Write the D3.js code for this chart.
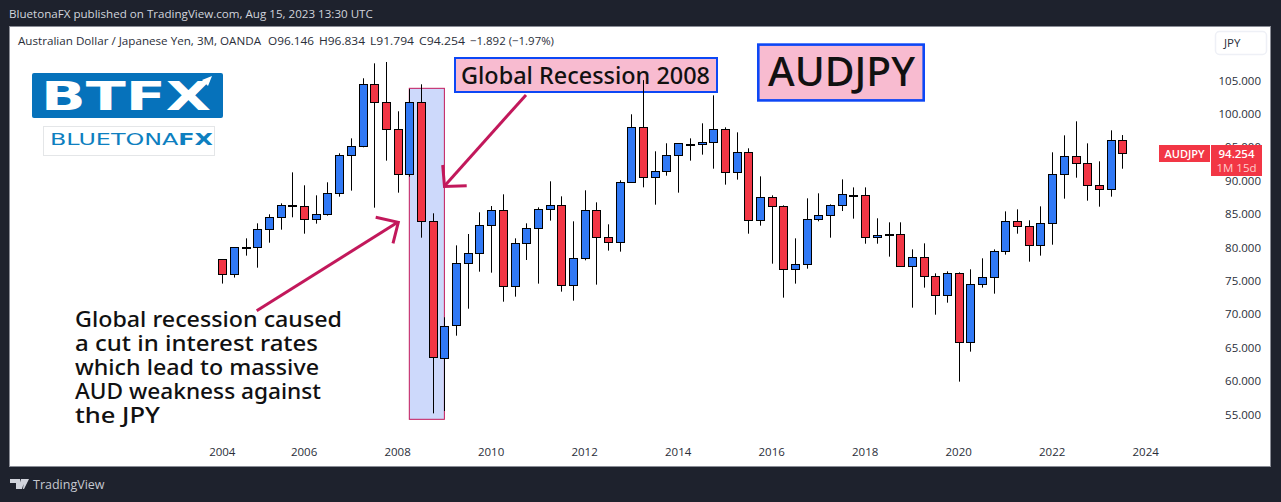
<!DOCTYPE html>
<html><head><meta charset="utf-8">
<script src="https://cdn.jsdelivr.net/npm/d3@7"></script>
<style>html,body{margin:0;padding:0;background:#1e222d;overflow:hidden}svg{display:block}</style>
</head><body><svg id="c" width="1281" height="502"></svg>
<script>
const opens=[78.23,76.0,80.0,80.03,82.72,84.52,86.22,86.16,84.22,84.97,88.11,93.8,95.15,104.43,101.73,97.69,90.95,101.73,83.92,63.56,68.3,77.63,79.13,83.32,85.57,74.19,80.63,82.87,85.72,86.31,74.34,78.38,85.57,81.52,80.77,89.76,97.99,90.51,91.4,93.8,95.45,95.45,95.75,97.69,91.25,94.25,84.07,87.51,86.16,76.73,77.48,84.22,84.82,86.31,87.82,87.81,81.52,81.9,81.97,77.18,78.53,75.68,72.84,76.13,65.8,74.49,75.53,79.43,83.92,83.17,80.32,83.62,90.95,93.65,92.6,89.3,88.71,96.146];
const closes=[76.0,80.03,80.05,82.72,84.52,86.31,86.3,84.22,84.97,88.11,93.8,95.15,104.43,101.73,97.69,90.95,101.73,83.92,63.56,68.3,77.63,79.13,83.32,85.57,74.19,80.63,82.87,85.72,86.31,74.34,78.38,85.57,81.52,80.77,89.76,97.99,90.51,91.4,93.8,95.6,95.55,95.75,97.69,91.25,94.25,84.07,87.51,86.16,76.73,77.48,84.22,84.82,86.31,87.96,87.9,81.52,81.82,81.95,77.18,78.53,75.68,72.84,76.13,65.8,74.49,75.53,79.43,83.92,83.17,80.32,83.62,90.95,93.65,92.6,89.3,88.71,96.04,94.254];
const highs=[78.23,80.03,81.37,83.62,84.97,86.61,91.25,89.31,87.81,89.76,94.1,96.34,105.33,107.57,107.77,100.39,103.7,104.43,85.12,69.55,80.32,82.02,85.27,86.21,87.96,81.37,83.62,86.01,89.91,87.66,83.92,88.56,86.76,83.47,90.06,99.94,105.06,94.4,95.6,95.6,96.34,98.59,102.78,97.99,97.24,94.85,90.65,87.81,86.31,81.37,87.36,88.11,86.46,90.2,89.0,89.0,84.37,83.77,83.77,79.72,80.62,76.13,76.43,76.28,76.73,78.38,79.72,85.41,85.71,84.07,86.16,94.25,96.79,98.89,95.59,92.9,97.54,96.834];
const lows=[74.6,75.5,78.78,76.98,80.72,82.67,84.52,82.07,83.57,84.77,87.61,88.51,95.0,85.96,93.0,88.21,90.6,81.47,55.17,55.52,66.8,70.84,76.38,76.23,71.89,72.64,78.13,74.59,84.02,73.39,72.04,78.08,74.44,79.53,79.38,89.76,89.01,86.41,90.75,88.21,93.0,93.9,91.8,89.41,90.16,82.07,83.27,77.58,72.49,74.59,76.83,83.92,81.47,85.46,84.32,80.57,80.57,78.63,77.18,70.99,73.99,69.94,71.74,59.92,64.41,73.99,73.09,78.93,82.07,77.88,78.78,80.42,87.31,90.45,87.01,86.11,87.61,91.794];
const yearTicks=[2004,2006,2008,2010,2012,2014,2016,2018,2020,2022,2024];
const yearTickIndex=[0,7,15,23,31,39,47,55,63,71,79];
const priceTicks=[55,60,65,70,75,80,85,90,95,100,105];
const captionLines=["Global recession caused","a cut in interest rates","which lead to massive","AUD weakness against","the JPY"];
const captionWidths=[267,243,244,246,85];
const legendParts=["Australian Dollar / Japanese Yen, 3M, OANDA","O96.146","H96.834","L91.794","C94.254","−1.892 (−1.97%)"];

const W=1281,H=502,UI='"Open Sans","Noto Sans",sans-serif',ANN='"Noto Sans","Open Sans",sans-serif';
const BLUE='#3179f5',RED='#f23645',PINK='#c2185b';
const svg=d3.select('#c');
const x=d3.scaleLinear().domain([0,77]).range([222.3,1122.3]);
const y=d3.scaleLinear().domain([55,105]).range([414.5,80.5]);

svg.append('rect').attr('width',W).attr('height',H).attr('fill','#1e222d');
svg.append('rect').attr('x',9.5).attr('y',26.5).attr('width',1261).attr('height',440).attr('fill','#fff').attr('stroke','#8a8d96');
svg.append('text').attr('x',9).attr('y',18).attr('font-family',UI).attr('font-size',11.6).attr('fill','#d1d4dc').text('BluetonaFX published on TradingView.com, Aug 15, 2023 13:30 UTC');

// legend line
const lx=[18,268,319,370,419,470];
const lw=[243,46,46,44,46,84];
legendParts.forEach((t,i)=>svg.append('text').attr('x',lx[i]).attr('y',45).attr('font-family',UI).attr('font-size',11.4).attr('textLength',lw[i]).attr('lengthAdjust','spacingAndGlyphs').attr('fill','#2a2e39').text(t));

// logos
svg.append('rect').attr('x',32).attr('y',73).attr('width',191).attr('height',45).attr('rx',2).attr('fill','#0672bb');
svg.append('text').attr('x',41).attr('y',110).attr('font-family','"DejaVu Sans",sans-serif').attr('font-weight',700).attr('font-size',39).attr('textLength',170).attr('lengthAdjust','spacingAndGlyphs').attr('fill','#fff').text('BTFX');
svg.append('path').attr('d','M191 97L208 80').attr('stroke','#fff').attr('stroke-width',2.5).attr('fill','none');
svg.append('path').attr('d','M212 76L202 80L208 86Z').attr('fill','#fff');
svg.append('rect').attr('x',43.5).attr('y',126.5).attr('width',171).attr('height',29).attr('fill','#fff').attr('stroke','#e4e6e8');
const sub=svg.append('text').attr('x',50).attr('y',145).attr('font-family','"DejaVu Sans",sans-serif').attr('font-size',16.5).attr('textLength',163).attr('lengthAdjust','spacingAndGlyphs').attr('fill','#0e7fc0');
sub.append('tspan').text('BLUETONA');
sub.append('tspan').attr('font-weight',700).text('FX');

// highlight range
svg.append('rect').attr('x',x(16)).attr('y',y(103.83)).attr('width',x(19)-x(16)).attr('height',y(54.28)-y(103.83)).attr('fill','#cdd9fb').attr('stroke',PINK).attr('stroke-width',1);

// annotation box under the candles
svg.append('rect').attr('x',455).attr('y',58).attr('width',262).attr('height',34).attr('fill','#f8bbd0').attr('stroke','#0d47f5').attr('stroke-width',2);
svg.append('text').attr('x',461).attr('y',84).attr('font-family',ANN).attr('font-weight',500).attr('font-size',23.5).attr('textLength',249).attr('lengthAdjust','spacingAndGlyphs').attr('fill','#111').text('Global Recession 2008');

// candles
const idx=d3.range(opens.length);
const g=svg.append('g');
g.selectAll('line.w').data(idx).join('line').attr('class','w')
 .attr('x1',i=>Math.round(x(i))+.5).attr('x2',i=>Math.round(x(i))+.5)
 .attr('y1',i=>y(highs[i])).attr('y2',i=>y(lows[i])).attr('stroke','#000').attr('stroke-width',1);
g.selectAll('rect.b').data(idx).join('rect').attr('class','b')
 .attr('x',i=>Math.round(x(i))-3.5).attr('width',8)
 .attr('y',i=>Math.round(y(Math.max(opens[i],closes[i])))+.5)
 .attr('height',i=>Math.max(1,Math.round(Math.abs(y(opens[i])-y(closes[i])))))
 .attr('fill',i=>closes[i]>=opens[i]?BLUE:RED).attr('stroke','#000').attr('stroke-width',1);

// arrows
const arrow=pts=>svg.append('path').attr('d',d3.line()(pts)).attr('fill','none').attr('stroke',PINK).attr('stroke-width',3);
arrow([[526,95],[444.5,186]]);arrow([[442.7,165],[444.5,186.5],[466.7,185.7]]);
arrow([[256.7,310.7],[397.7,222.3]]);arrow([[375.7,217.3],[398.3,222.3],[393,243.3]]);

svg.append('rect').attr('x',758.3).attr('y',44.6).attr('width',165.4).attr('height',55.8).attr('fill','#f8bbd0').attr('stroke','#0d47f5').attr('stroke-width',2.6);
svg.append('text').attr('x',768).attr('y',86).attr('font-family',ANN).attr('font-weight',500).attr('font-size',39).attr('textLength',147).attr('lengthAdjust','spacingAndGlyphs').attr('fill','#111').text('AUDJPY');

// caption
svg.append('g').selectAll('text').data(captionLines).join('text')
 .attr('x',75).attr('y',(d,i)=>327+i*24).attr('font-family',ANN).attr('font-weight',500).attr('font-size',22)
 .attr('textLength',(d,i)=>captionWidths[i]).attr('lengthAdjust','spacingAndGlyphs').attr('fill','#111').text(d=>d);

// price axis
const yAxis=svg.append('g').attr('transform','translate(1261,0)').call(d3.axisRight(y).tickValues(priceTicks).tickFormat(d3.format('.3f')).tickSize(0));
yAxis.select('.domain').remove();
yAxis.selectAll('text').attr('x',0).attr('text-anchor','end').attr('font-family',UI).attr('font-size',11.5).attr('fill','#2a2e39');

// time axis
const timeScale=d3.scaleOrdinal().domain(yearTicks).range(yearTickIndex);
svg.append('g').selectAll('text').data(yearTicks).join('text').attr('x',d=>x(timeScale(d))).attr('y',456).attr('text-anchor','middle').attr('font-family',UI).attr('font-size',11.5).attr('fill','#2a2e39').text(d=>d);

// price tags
svg.append('rect').attr('x',1159).attr('y',145).attr('width',51).attr('height',17).attr('fill',RED);
svg.append('text').attr('x',1184.5).attr('y',157.5).attr('text-anchor','middle').attr('font-family',UI).attr('font-weight',600).attr('font-size',11).attr('fill','#fff').text('AUDJPY');
svg.append('rect').attr('x',1211).attr('y',145).attr('width',51).attr('height',31).attr('fill',RED);
svg.append('text').attr('x',1236.5).attr('y',158).attr('text-anchor','middle').attr('font-family',UI).attr('font-weight',600).attr('font-size',11.5).attr('fill','#fff').text('94.254');
svg.append('text').attr('x',1236.5).attr('y',172).attr('text-anchor','middle').attr('font-family',UI).attr('font-size',11.5).attr('fill','#fcc').text('1M 15d');

// currency button
svg.append('rect').attr('x',1215.5).attr('y',31.5).attr('width',51).attr('height',23).attr('rx',4).attr('fill','#fff').attr('stroke','#eef0f6').attr('stroke-width',1.5);
svg.append('text').attr('x',1224).attr('y',47).attr('font-family',UI).attr('font-size',11.5).attr('fill','#2a2e39').text('JPY');

// footer brand
svg.append('path').attr('d','M10 479h10v10h-4v-6h-6z M21 479h4l-3 10h-4z M24 479h5l-5 10h-1z').attr('fill','#d1d4dc');
svg.append('text').attr('x',33).attr('y',489).attr('font-family',UI).attr('font-size',12.5).attr('fill','#c5c8d0').text('TradingView');
</script></body></html>
